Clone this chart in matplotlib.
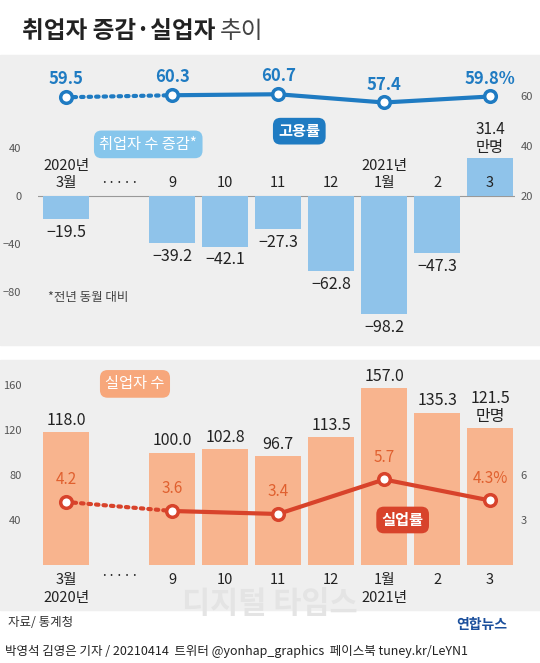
import numpy as np
import matplotlib.pyplot as plt
from matplotlib.patches import Rectangle

plt.rcParams['font.family'] = ['Noto Sans CJK KR', 'DejaVu Sans']

# data
pos = [0, 2, 3, 4, 5, 6, 7, 8]
months = ['2020년\n3월', '9', '10', '11', '12', '2021년\n1월', '2', '3']
emp_change = [-19.5, -39.2, -42.1, -27.3, -62.8, -98.2, -47.3, 31.4]
emp_rate_pos = [0, 2, 4, 6, 8]
emp_rate = [59.5, 60.3, 60.7, 57.4, 59.8]
unemp = [118.0, 100.0, 102.8, 96.7, 113.5, 157.0, 135.3, 121.5]
unemp_rate_pos = [0, 2, 4, 6, 8]
unemp_rate = [4.2, 3.6, 3.4, 5.7, 4.3]

W, H = 540, 663
fig = plt.figure(figsize=(5.4, 6.63), dpi=100, facecolor='white')

def fx(x): return x / W
def fy(y): return 1 - y / H

BLUE_BAR = '#8fc3ea'
BLUE = '#1f7bc2'
PEACH = '#f8b48e'
RED = '#d8432b'
BG = '#efefef'
GREY = '#555555'

# panel backgrounds
fig.patches.append(Rectangle((0, fy(345)), 1, fy(55) - fy(345), transform=fig.transFigure, color=BG, zorder=-5))
fig.patches.append(Rectangle((0, fy(610)), 1, fy(360) - fy(610), transform=fig.transFigure, color=BG, zorder=-5))

fig.text(fx(22), fy(38), '취업자 증감·실업자', fontsize=17, fontweight='bold', color='#222222', va='baseline')
fig.text(fx(220), fy(38), '추이', fontsize=17, color='#444444', va='baseline')

# ---- top panel
ax1 = fig.add_axes([fx(38), fy(340), fx(477), (340 - 60) / H])
ax1.patch.set_alpha(0)
ax1.bar(pos, emp_change, width=0.87, color=BLUE_BAR, zorder=2)
ax1.axhline(0, color='#999999', lw=0.8, zorder=1)
ax1.set_xlim(-0.53, 8.47)
ax1.set_ylim(-120, 113.3)
ax1.set_yticks([-80, -40, 0, 40])
ax1.set_xticks([])
for s in ax1.spines.values():
    s.set_visible(False)
ax1.tick_params(axis='y', length=0, labelsize=8, colors=GREY, pad=12)

ax2 = ax1.twinx()
ax2.set_ylim(-37.6, 74.4)
ax2.set_yticks([20, 40, 60])
for s in ax2.spines.values():
    s.set_visible(False)
ax2.tick_params(axis='y', length=0, labelsize=8, colors=GREY, pad=4)
ax2.plot(emp_rate_pos[:2], emp_rate[:2], color=BLUE, lw=3, ls=(0, (0.6, 1.2)), dash_capstyle='round', zorder=3)
ax2.plot(emp_rate_pos[1:], emp_rate[1:], color=BLUE, lw=3, zorder=3)
ax2.scatter(emp_rate_pos, emp_rate, s=70, facecolor='white', edgecolor=BLUE, lw=2.5, zorder=4)
for i, (p, v) in enumerate(zip(emp_rate_pos, emp_rate)):
    lab = f'{v}%' if i == len(emp_rate) - 1 else f'{v}'
    ax2.text(p, v + 3.5, lab, ha='center', va='bottom', fontsize=12, color=BLUE, fontweight='bold')

for p, m, v in zip(pos, months, emp_change):
    ax1.text(p, 5, m, ha='center', va='bottom', fontsize=10.5, color='#222222', zorder=5, linespacing=1.3)
    if v < 0:
        ax1.text(p, v - 4, f'−{abs(v)}', ha='center', va='top', fontsize=11.5, color='#222222')
    else:
        ax1.text(p, v + 2, f'{v}\n만명', ha='center', va='bottom', fontsize=11, color='#222222', linespacing=1.1)
ax1.text(1, 5, '·····', ha='center', va='bottom', fontsize=10, color='#222222')
ax1.text(1.55, 43, '취업자 수 증감*', ha='center', va='center', fontsize=11, color='white',
         bbox=dict(boxstyle='round,pad=0.35,rounding_size=0.5', fc='#86c6ec', ec='none'))
ax1.text(4.4, 54, '고용률', ha='center', va='center', fontsize=11, color='white', fontweight='bold',
         bbox=dict(boxstyle='round,pad=0.35,rounding_size=0.5', fc=BLUE, ec='none'))
ax1.text(-0.35, -85, '*전년 동월 대비', ha='left', va='center', fontsize=9, color='#444444')

# ---- bottom panel
ax3 = fig.add_axes([fx(38), fy(565), fx(477), (565 - 365) / H])
ax3.patch.set_alpha(0)
ax3.bar(pos, unemp, width=0.87, color=PEACH, zorder=2)
ax3.set_xlim(-0.53, 8.47)
ax3.set_ylim(0, 177.8)
ax3.set_yticks([40, 80, 120, 160])
ax3.set_xticks(pos)
ax3.set_xticklabels(['3월\n2020년', '9', '10', '11', '12', '1월\n2021년', '2', '3'], fontsize=10.5, color='#222222', linespacing=1.3)
ax3.tick_params(axis='x', length=0, pad=6)
for s in ax3.spines.values():
    s.set_visible(False)
ax3.tick_params(axis='y', length=0, labelsize=8, colors=GREY, pad=12)
ax3.text(1, -4, '·····', ha='center', va='top', fontsize=10, color='#222222')
for p, v in zip(pos, unemp):
    lab = f'{v:.1f}\n만명' if p == 8 else f'{v:.1f}'
    ax3.text(p, v + 3, lab, ha='center', va='bottom', fontsize=11.5, color='#222222', linespacing=1.1)

ax4 = ax3.twinx()
ax4.set_ylim(0, 13.33)
ax4.set_yticks([3, 6])
for s in ax4.spines.values():
    s.set_visible(False)
ax4.tick_params(axis='y', length=0, labelsize=8, colors=GREY, pad=4)
ax4.plot(unemp_rate_pos[:2], unemp_rate[:2], color=RED, lw=3, ls=(0, (0.6, 1.2)), dash_capstyle='round', zorder=3)
ax4.plot(unemp_rate_pos[1:], unemp_rate[1:], color=RED, lw=3, zorder=3)
ax4.scatter(unemp_rate_pos, unemp_rate, s=70, facecolor='white', edgecolor=RED, lw=2.5, zorder=4)
for i, (p, v) in enumerate(zip(unemp_rate_pos, unemp_rate)):
    lab = f'{v}%' if i == len(unemp_rate) - 1 else f'{v}'
    ax4.text(p, v + 0.9, lab, ha='center', va='bottom', fontsize=11, color='#e0602f')
ax3.text(1.3, 161, '실업자 수', ha='center', va='center', fontsize=11, color='white',
         bbox=dict(boxstyle='round,pad=0.35,rounding_size=0.5', fc='#f7a77b', ec='none'))
ax4.text(6.35, 3.0, '실업률', ha='center', va='center', fontsize=11, color='white', fontweight='bold',
         bbox=dict(boxstyle='round,pad=0.35,rounding_size=0.5', fc=RED, ec='none'))

# footer
fig.text(fx(8), fy(623), '자료/ 통계청', fontsize=9, style='italic', color='#333333', va='center')
fig.text(fx(270), fy(604), '디지털 타임스', fontsize=22, fontweight='bold', color='#e4e4e4', ha='center', va='center', zorder=-1)
fig.text(fx(482), fy(625), '연합뉴스', fontsize=10, fontweight='bold', color='#1b4f9c', ha='center', va='center')
fig.text(fx(5), fy(651), '박영석 김영은 기자 / 20210414  트위터 @yonhap_graphics  페이스북 tuney.kr/LeYN1',
         fontsize=9, color='#222222', va='center')

fig.savefig('out.png', dpi=100)
